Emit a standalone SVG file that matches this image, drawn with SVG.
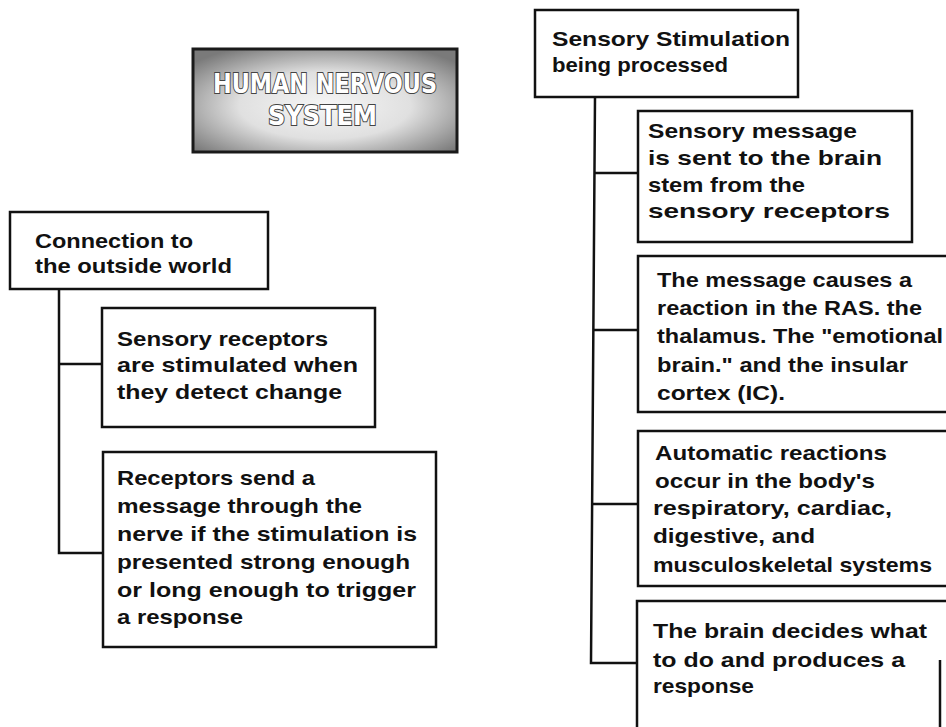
<svg xmlns="http://www.w3.org/2000/svg" width="946" height="727" viewBox="0 0 946 727">
  <style>
    .box { fill: #ffffff; stroke: #111111; stroke-width: 2.5; }
    .conn { fill: none; stroke: #111111; stroke-width: 2.5; }
    .t { font-family: "Liberation Sans", Arial, sans-serif; font-weight: bold; font-size: 21px; fill: #111111; }
    .title { font-family: "DejaVu Sans", "Liberation Sans", sans-serif; font-weight: bold; font-size: 26px; fill: #ffffff; stroke: #444444; stroke-width: 2; paint-order: stroke; }
  </style>
  <defs>
    <radialGradient id="tg" cx="50%" cy="55%" r="65%">
      <stop offset="0%" stop-color="#f6f6f6"/>
      <stop offset="50%" stop-color="#e0e0e0"/>
      <stop offset="100%" stop-color="#7a7a7a"/>
    </radialGradient>
  </defs>
  <rect width="946" height="727" fill="#ffffff"/>

  <g id="connectors">
    <path class="conn" d="M59,289 V553 H103"/>
    <path class="conn" d="M59,364 H102"/>
    <path class="conn" d="M595,97 L591,663 H637"/>
    <path class="conn" d="M595,173 H638"/>
    <path class="conn" d="M593,330 H638"/>
    <path class="conn" d="M592,504 H638"/>
  </g>

  <g id="title">
    <rect x="193" y="49" width="264" height="103" fill="url(#tg)" stroke="#1a1a1a" stroke-width="3"/>
    <text class="title" x="213" y="93" textLength="224" lengthAdjust="spacingAndGlyphs">HUMAN NERVOUS</text>
    <text class="title" x="268" y="125" textLength="109" lengthAdjust="spacingAndGlyphs">SYSTEM</text>
  </g>

  <g id="connection">
    <rect class="box" x="10" y="212" width="258" height="77"/>
    <text class="t" x="35" y="248" textLength="158" lengthAdjust="spacingAndGlyphs">Connection to</text>
    <text class="t" x="35" y="273" textLength="197" lengthAdjust="spacingAndGlyphs">the outside world</text>
  </g>

  <g id="receptors-stimulated">
    <rect class="box" x="102" y="308" width="273" height="119"/>
    <text class="t" x="117" y="346" textLength="211" lengthAdjust="spacingAndGlyphs">Sensory receptors</text>
    <text class="t" x="117" y="372" textLength="241" lengthAdjust="spacingAndGlyphs">are stimulated when</text>
    <text class="t" x="117" y="399" textLength="225" lengthAdjust="spacingAndGlyphs">they detect change</text>
  </g>

  <g id="receptors-send">
    <rect class="box" x="103" y="452" width="333" height="195"/>
    <text class="t" x="117" y="485" textLength="198" lengthAdjust="spacingAndGlyphs">Receptors send a</text>
    <text class="t" x="117" y="513" textLength="245" lengthAdjust="spacingAndGlyphs">message through the</text>
    <text class="t" x="117" y="541" textLength="300" lengthAdjust="spacingAndGlyphs">nerve if the stimulation is</text>
    <text class="t" x="117" y="569" textLength="293" lengthAdjust="spacingAndGlyphs">presented strong enough</text>
    <text class="t" x="117" y="597" textLength="299" lengthAdjust="spacingAndGlyphs">or long enough to trigger</text>
    <text class="t" x="117" y="624" textLength="126" lengthAdjust="spacingAndGlyphs">a response</text>
  </g>

  <g id="stimulation-processed">
    <rect class="box" x="535" y="10" width="263" height="87"/>
    <text class="t" x="552" y="46" textLength="238" lengthAdjust="spacingAndGlyphs">Sensory Stimulation</text>
    <text class="t" x="552" y="72" textLength="176" lengthAdjust="spacingAndGlyphs">being processed</text>
  </g>

  <g id="message-sent">
    <rect class="box" x="638" y="111" width="274" height="131"/>
    <text class="t" x="648" y="138" textLength="209" lengthAdjust="spacingAndGlyphs">Sensory message</text>
    <text class="t" x="648" y="165" textLength="234" lengthAdjust="spacingAndGlyphs">is sent to the brain</text>
    <text class="t" x="648" y="192" textLength="157" lengthAdjust="spacingAndGlyphs">stem from the</text>
    <text class="t" x="648" y="218" textLength="242" lengthAdjust="spacingAndGlyphs">sensory receptors</text>
  </g>

  <g id="reaction">
    <rect class="box" x="638" y="256" width="330" height="156"/>
    <text class="t" x="657" y="287" textLength="255" lengthAdjust="spacingAndGlyphs">The message causes a</text>
    <text class="t" x="657" y="315" textLength="265" lengthAdjust="spacingAndGlyphs">reaction in the RAS. the</text>
    <text class="t" x="657" y="343" textLength="286" lengthAdjust="spacingAndGlyphs">thalamus. The "emotional</text>
    <text class="t" x="657" y="372" textLength="251" lengthAdjust="spacingAndGlyphs">brain." and the insular</text>
    <text class="t" x="657" y="400" textLength="128" lengthAdjust="spacingAndGlyphs">cortex (IC).</text>
  </g>

  <g id="automatic">
    <rect class="box" x="638" y="431" width="330" height="155"/>
    <text class="t" x="655" y="460" textLength="232" lengthAdjust="spacingAndGlyphs">Automatic reactions</text>
    <text class="t" x="655" y="488" textLength="220" lengthAdjust="spacingAndGlyphs">occur in the body's</text>
    <text class="t" x="653" y="515" textLength="239" lengthAdjust="spacingAndGlyphs">respiratory, cardiac,</text>
    <text class="t" x="653" y="543" textLength="162" lengthAdjust="spacingAndGlyphs">digestive, and</text>
    <text class="t" x="653" y="572" textLength="279" lengthAdjust="spacingAndGlyphs">musculoskeletal systems</text>
  </g>

  <g id="brain-decides">
    <path class="conn" d="M946,601 H637 V727"/>
    <path class="conn" d="M940,660 V727"/>
    <text class="t" x="653" y="638" textLength="274" lengthAdjust="spacingAndGlyphs">The brain decides what</text>
    <text class="t" x="653" y="667" textLength="252" lengthAdjust="spacingAndGlyphs">to do and produces a</text>
    <text class="t" x="653" y="693" textLength="101" lengthAdjust="spacingAndGlyphs">response</text>
  </g>
</svg>
